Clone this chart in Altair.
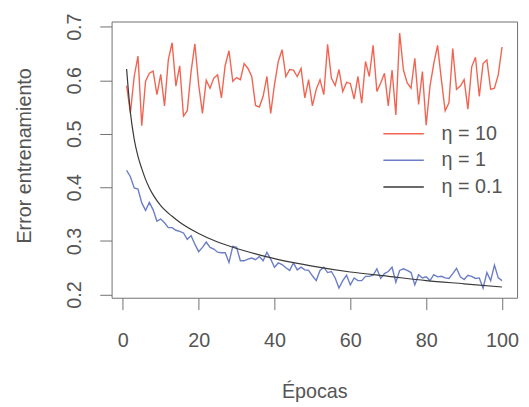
import altair as alt
import pandas as pd

epocas = list(range(1, 101))

# eta = 10
error_eta10 = [0.590,0.539,0.607,0.645,0.515,0.598,0.613,0.617,0.573,0.611,
0.552,0.638,0.670,0.589,0.627,0.533,0.543,0.616,0.668,0.592,
0.538,0.600,0.585,0.604,0.610,0.567,0.628,0.655,0.598,0.605,
0.601,0.631,0.622,0.607,0.553,0.550,0.570,0.607,0.538,0.592,
0.635,0.657,0.607,0.620,0.619,0.607,0.622,0.567,0.601,0.552,
0.583,0.601,0.573,0.667,0.604,0.590,0.620,0.579,0.596,0.594,
0.565,0.607,0.557,0.635,0.607,0.665,0.579,0.595,0.613,0.552,
0.619,0.535,0.688,0.619,0.595,0.585,0.641,0.555,0.616,0.516,
0.589,0.631,0.665,0.601,0.543,0.558,0.659,0.583,0.589,0.601,
0.546,0.625,0.643,0.570,0.631,0.638,0.583,0.585,0.610,0.662]

# eta = 1
error_eta1 = [0.432,0.420,0.399,0.397,0.371,0.357,0.372,0.358,0.337,0.341,
0.334,0.325,0.325,0.320,0.318,0.315,0.303,0.310,0.294,0.280,
0.288,0.298,0.288,0.285,0.279,0.278,0.278,0.260,0.290,0.288,
0.263,0.263,0.266,0.268,0.265,0.271,0.263,0.279,0.266,0.251,
0.259,0.256,0.250,0.245,0.259,0.246,0.251,0.246,0.245,0.235,
0.226,0.245,0.251,0.241,0.243,0.231,0.212,0.226,0.236,0.218,
0.231,0.226,0.226,0.234,0.234,0.236,0.248,0.230,0.239,0.243,
0.251,0.223,0.245,0.248,0.245,0.241,0.218,0.237,0.231,0.233,
0.226,0.237,0.233,0.234,0.231,0.230,0.239,0.249,0.233,0.228,
0.236,0.234,0.230,0.231,0.212,0.241,0.226,0.255,0.231,0.226]

# eta = 0.1 (smooth curve, read at selected epochs)
epocas_eta01 = [1, 2, 3, 4, 5, 6, 7, 8, 10, 13, 15, 20, 25, 30, 35, 40, 45, 50, 60, 70, 80, 90, 100]
error_eta01 = [0.621, 0.540, 0.490, 0.458, 0.435, 0.415, 0.399, 0.386, 0.366, 0.346, 0.335,
               0.314, 0.298, 0.286, 0.276, 0.267, 0.2595, 0.253, 0.242, 0.234, 0.226, 0.220, 0.214]

series = ["η = 10", "η = 1", "η = 0.1"]
colores = ["#F26451", "#6B7DC6", "#3a3a3a"]

W, H = 411, 280
FONT = "Liberation Sans"
TXT = "#555555"
GRIS = "#707070"

xscale = alt.Scale(domain=[-2.96, 103.96], nice=False, zero=False)
yscale = alt.Scale(domain=[0.194, 0.7096], nice=False, zero=False)

axis_common = dict(domain=True, domainColor=GRIS, domainWidth=1,
                   grid=False, ticks=True, tickColor=GRIS, tickSize=12, tickWidth=1,
                   labelFont=FONT, labelFontSize=20, labelColor=TXT,
                   titleFont=FONT, titleFontSize=20, titleColor=TXT, titleFontWeight="normal",
                   labelFlush=False, labelOverlap=False)

xaxis = alt.Axis(values=[0, 20, 40, 60, 80, 100], format="d", title="Épocas",
                 labelPadding=21, titleY=100.7, titleBaseline="alphabetic", **axis_common)
yaxis = alt.Axis(values=[0.2, 0.3, 0.4, 0.5, 0.6, 0.7], format=".1f", title="Error entrenamiento",
                 labelAngle=270, labelAlign="center", labelBaseline="alphabetic",
                 labelPadding=19.5, titleX=-82, titleY=135.7, titleAngle=270,
                 titleBaseline="alphabetic", titleAlign="center", **axis_common)

# top and right axes: only their domain lines, closing the box like R's box()
xaxis_top = alt.Axis(orient="top", domain=True, domainColor=GRIS, domainWidth=1,
                     ticks=False, labels=False, grid=False, title=None)
yaxis_right = alt.Axis(orient="right", domain=True, domainColor=GRIS, domainWidth=1,
                       ticks=False, labels=False, grid=False, title=None)

df10 = pd.DataFrame({"epoca": epocas, "error": error_eta10, "serie": series[0]})
df1 = pd.DataFrame({"epoca": epocas, "error": error_eta1, "serie": series[1]})
df01 = pd.DataFrame({"epoca": epocas_eta01, "error": error_eta01, "serie": series[2]})


def linea(df, color, sw, ax_x, ax_y, interp="linear"):
    return alt.Chart(df).mark_line(color=color, strokeWidth=sw, interpolate=interp).encode(
        x=alt.X("epoca:Q", scale=xscale, axis=ax_x),
        y=alt.Y("error:Q", scale=yscale, axis=ax_y),
    )


capas = [
    linea(df10, colores[0], 1.4, xaxis, yaxis),
    linea(df1, colores[1], 1.4, None, None),
    linea(df01, colores[2], 1.2, xaxis_top, yaxis_right, "monotone"),
]

# manual legend (no box, like R's bty="n")
leg_y = [113.7, 140.7, 167.7]
for i, (s, c) in enumerate(zip(series, colores)):
    d = pd.DataFrame({"label": [s]})
    capas.append(alt.Chart(d).mark_rule(color=c, strokeWidth=1.5).encode(
        x=alt.value(275.5), x2=alt.value(316.5), y=alt.value(leg_y[i])))
    capas.append(alt.Chart(d).mark_text(align="left", baseline="middle", font=FONT,
                                        fontSize=20, color=TXT).encode(
        x=alt.value(334.5), y=alt.value(leg_y[i]), text="label:N"))

chart = alt.layer(*capas).resolve_axis(x="independent", y="independent").properties(
    width=W, height=H,
    autosize=alt.AutoSizeParams(type="none"),
    padding={"left": 105, "top": 11, "right": 4, "bottom": 105},
).configure_view(strokeWidth=0)

chart.save("out.html", embed_options={"renderer": "svg", "actions": False})
